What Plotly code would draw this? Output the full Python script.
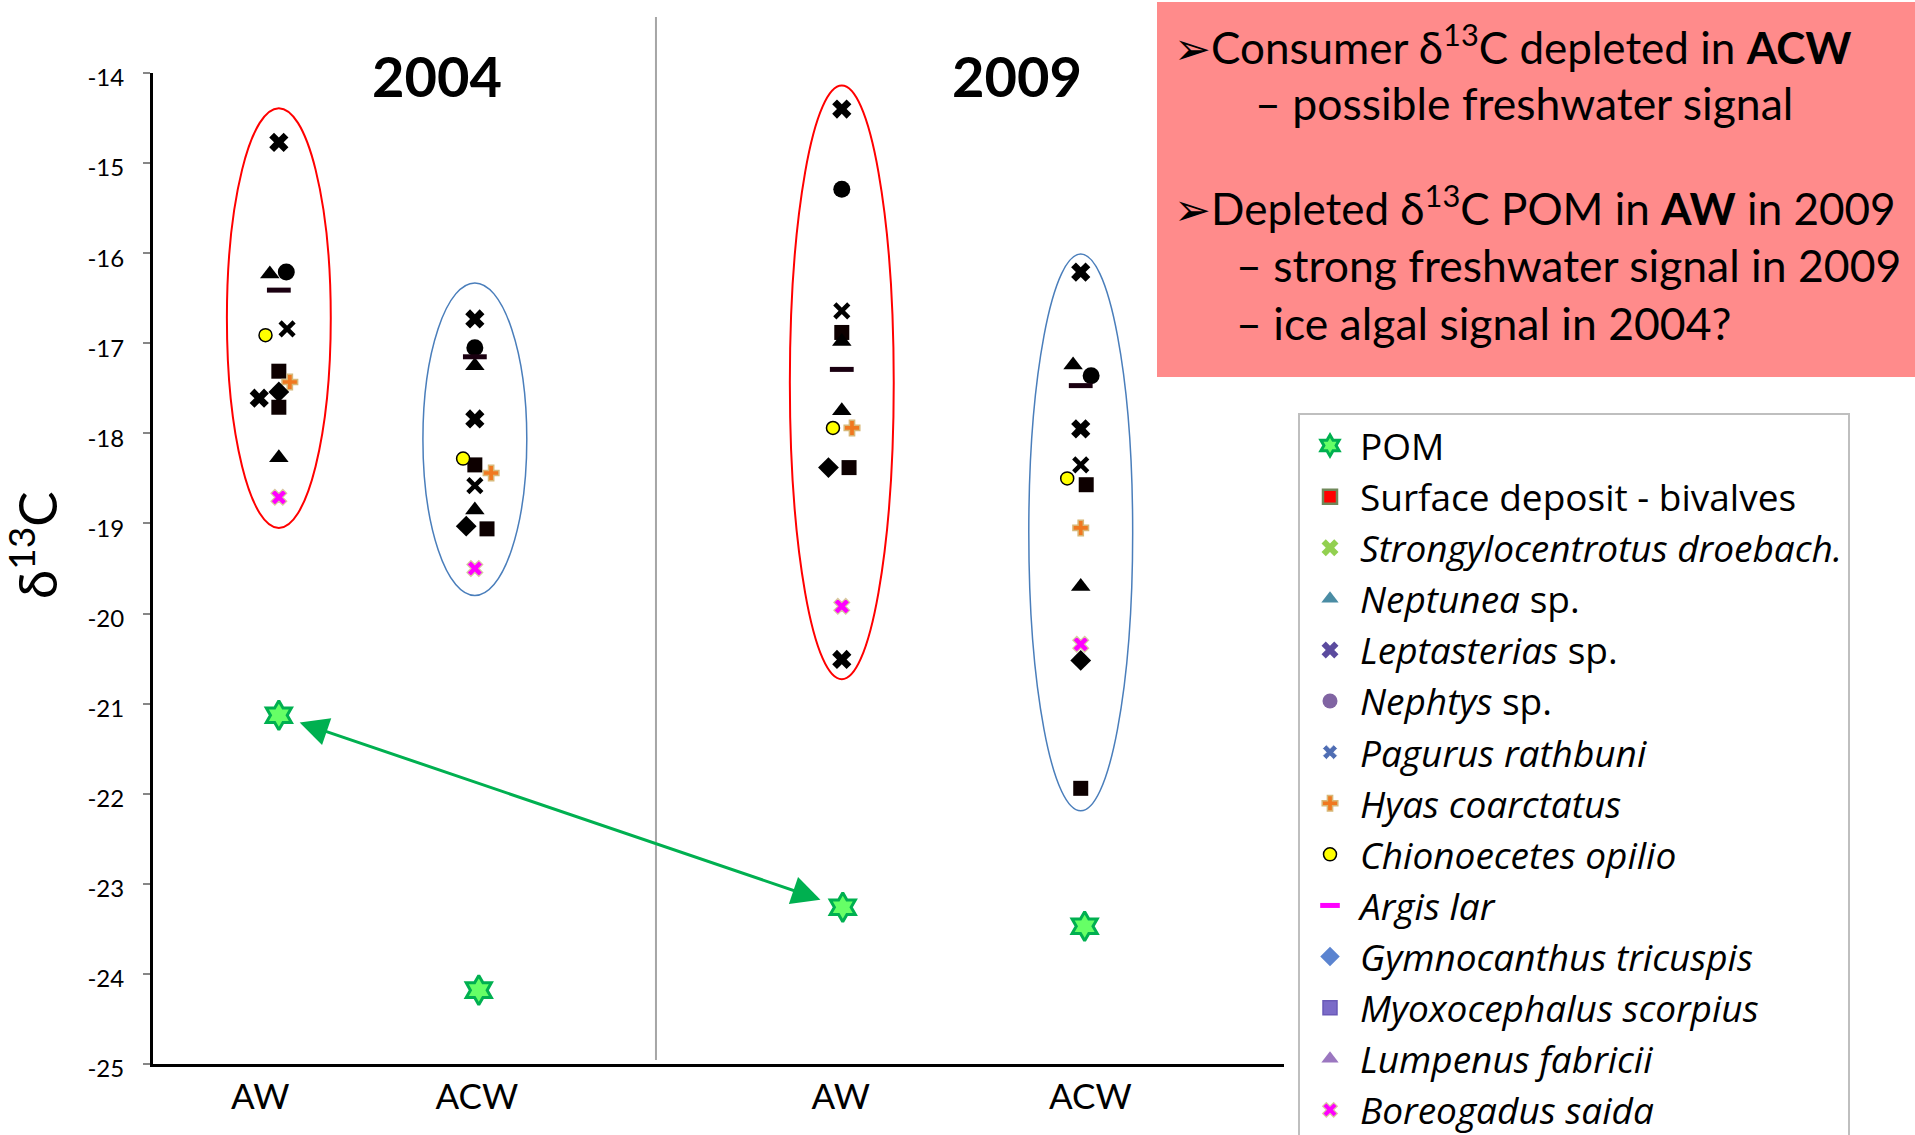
import plotly.graph_objects as go

# ---------------- data ----------------
years = ["2004", "2009"]
sites = ["AW", "ACW", "AW", "ACW"]          # AW 2004, ACW 2004, AW 2009, ACW 2009
site_x = [1.0, 2.0, 3.872, 5.091]

species = [
    "POM", "Surface deposit - bivalves", "<i>Strongylocentrotus droebach.</i>",
    "<i>Neptunea</i> sp.", "<i>Leptasterias</i> sp.", "<i>Nephtys</i> sp.",
    "<i>Pagurus rathbuni</i>", "<i>Hyas coarctatus</i>", "<i>Chionoecetes opilio</i>",
    "<i>Argis lar</i>", "<i>Gymnocanthus tricuspis</i>", "<i>Myoxocephalus scorpius</i>",
    "<i>Lumpenus fabricii</i>", "<i>Boreogadus saida</i>",
]

# d13C per species: [AW 2004, ACW 2004, AW 2009, ACW 2009]
pom          = [-21.13, -24.18, -23.26, -23.47]
surface      = [-17.31, -18.35, -16.88, -18.57]
strongylo    = [-14.77, -16.73, -14.40, -16.21]
neptunea     = [-16.23, -17.25, -16.98, -17.24]
leptasterias = [-17.61, -17.84, -20.51, -17.95]
nephtys      = [-16.21, -17.05, -15.29, -17.36]
pagurus      = [-16.84, -18.58, -16.64, -18.35]
hyas         = [-17.43, -18.44, -17.94, -19.05]
chionoecetes = [-16.91, -18.28, -17.94, -18.50]
argis        = [-16.41, -17.15, -17.29, -17.47]
gymnocanthus = [-17.54, -19.03, -18.38, -20.52]
myoxocephalus= [-17.71, -19.06, -18.38, -21.94]
lumpenus     = [-18.27, -18.85, -17.75, -19.70]
boreogadus   = [-18.71, -19.50, -19.92, -20.34]

values = [pom, surface, strongylo, neptunea, leptasterias, nephtys, pagurus, hyas,
          chionoecetes, argis, gymnocanthus, myoxocephalus, lumpenus, boreogadus]

# small x offsets of the original points within each site (x units)
jitter = [
    [0.0, 0.02, 0.005, 0.02],      # POM
    [0.0, 0.0, 0.0, 0.028],        # surface
    [0.0, 0.0, 0.0, 0.0],          # strongylo
    [-0.046, 0.0, 0.0, -0.039],    # neptunea
    [-0.10, 0.0, 0.0, 0.0],        # leptasterias
    [0.038, 0.0, 0.0, 0.053],      # nephtys
    [0.042, 0.0, 0.0, 0.0],        # pagurus
    [0.056, 0.083, 0.052, 0.0],    # hyas
    [-0.068, -0.06, -0.045, -0.069],  # chionoecetes
    [0.0, 0.0, 0.0, 0.0],          # argis
    [0.0, -0.044, -0.068, 0.0],    # gymnocanthus
    [0.0, 0.062, 0.037, 0.0],      # myoxocephalus
    [0.0, 0.0, 0.0, 0.0],          # lumpenus
    [0.0, 0.0, 0.0, 0.0],          # boreogadus
]

y_ticks = list(range(-14, -26, -1))

box_lines = [
    "➢Consumer δ<sup>13</sup>C depleted in <b>ACW</b>",
    "– possible freshwater signal",
    "➢Depleted δ<sup>13</sup>C POM in <b>AW</b> in 2009",
    "– strong freshwater signal in 2009",
    "– ice algal signal in 2004?",
]

# ---------------- styles ----------------
FONT = "Lato"
W, H = 1915, 1135
PX0, PX1, PY0, PY1 = 153, 1284, 73, 1064


def fx(px):
    return (px - PX0) / (PX1 - PX0)


def fy(py):
    return (PY1 - py) / (PY1 - PY0)


# (symbol, size, fill, line color, line width) for points in chart
plot_style = [
    ("hexagram", 22, "#66FF66", "#00B050", 3),
    ("square", 15, "#0D0000", "#0D0000", 0),
    ("x", 17, "black", "black", 0),
    ("triangle-up", 17, "black", "black", 0),
    ("x", 17, "black", "black", 0),
    ("circle", 17, "black", "black", 0),
    ("x-thin", 14, "black", "black", 4.5),
    ("cross", 13, "#F07820", "#D8B878", 1.5),
    ("circle", 13, "#FFFF00", "black", 1.5),
    ("line-ew", 17, "black", "#1A0010", 5),
    ("diamond", 16, "black", "black", 0),
    ("square", 15, "#0D0000", "#0D0000", 0),
    ("triangle-up", 17, "black", "black", 0),
    ("x", 14, "#FF00FF", "#D8C8A0", 1.2),
]
# legend markers (coloured)
legend_style = [
    ("hexagram", 16, "#66FF66", "#00B050", 3),
    ("square", 14, "#FF0000", "#70885A", 2.5),
    ("x", 15, "#92D050", "#92D050", 0),
    ("triangle-up", 15, "#4A8CA4", "#4A8CA4", 0),
    ("x", 15, "#5B4B9E", "#5B4B9E", 0),
    ("circle", 15, "#8064A2", "#8064A2", 0),
    ("x", 13, "#4F6DB3", "white", 0.8),
    ("cross", 13, "#F07820", "#D8B878", 1.5),
    ("circle", 13, "#FFFF00", "black", 1.5),
    ("line-ew", 14, "#FF00FF", "#FF00FF", 5),
    ("diamond", 15, "#5B84D0", "#5B84D0", 0),
    ("square", 14, "#7B6BC8", "#6A5AB8", 1.5),
    ("triangle-up", 15, "#9B77C0", "#9B77C0", 0),
    ("x", 13, "#FF00FF", "#D8C8A0", 1.2),
]

fig = go.Figure()

for i, name in enumerate(species):
    xs = [site_x[k] + jitter[i][k] for k in range(4)]
    sym, sz, fc, lc, lw = plot_style[i]
    fig.add_trace(go.Scatter(
        x=xs, y=values[i], mode="markers", name=name, legendgroup=str(i),
        showlegend=False,
        marker=dict(symbol=sym, size=sz, color=fc, line=dict(color=lc, width=lw)),
    ))
    sym, sz, fc, lc, lw = legend_style[i]
    fig.add_trace(go.Scatter(
        x=[None], y=[None], mode="markers", name=name, legendgroup=str(i),
        showlegend=True,
        marker=dict(symbol=sym, size=sz, color=fc, line=dict(color=lc, width=lw)),
    ))

shapes = []
# grey separator between the two years
shapes.append(dict(type="line", xref="x", yref="paper", x0=2.924, x1=2.924,
                   y0=fy(1060), y1=fy(17), line=dict(color="#A6A6A6", width=2)))
# group ellipses
ell = [
    (0, -14.39, -19.05, "#FF0000", 2),
    (1, -16.33, -19.80, "#4A7EBB", 1.5),
    (2, -14.14, -20.73, "#FF0000", 2),
    (3, -16.01, -22.19, "#4A7EBB", 1.5),
]
for k, ytop, ybot, col, lw in ell:
    shapes.append(dict(type="circle", xref="x", yref="y",
                       x0=site_x[k] - 0.265, x1=site_x[k] + 0.265,
                       y0=ybot, y1=ytop, line=dict(color=col, width=lw)))
# red text box
shapes.append(dict(type="rect", xref="paper", yref="paper",
                   x0=fx(1157), x1=fx(1925), y0=fy(377), y1=fy(2),
                   fillcolor="#FF8B8B", line=dict(width=0), layer="below"))

annotations = []
# double-headed POM arrow between AW 2004 and AW 2009
annotations.append(dict(
    x=site_x[0] + jitter[0][0], y=pom[0], ax=site_x[2] + jitter[0][2], ay=pom[2],
    xref="x", yref="y", axref="x", ayref="y", text="", showarrow=True,
    arrowhead=2, startarrowhead=2, arrowside="end+start", arrowsize=1.9,
    startarrowsize=1.9, arrowwidth=3, arrowcolor="#00B050",
    standoff=22, startstandoff=22,
))
# year titles
for yr, px in zip(years, [437, 1017]):
    annotations.append(dict(x=fx(px), y=fy(75), xref="paper", yref="paper",
                            text="<b>%s</b>" % yr, showarrow=False,
                            xanchor="center", yanchor="middle",
                            font=dict(family=FONT, size=56, color="black")))
# y-axis title
annotations.append(dict(x=fx(33), y=fy(545), xref="paper", yref="paper",
                        text="δ<sup>13</sup>C", textangle=-90, showarrow=False,
                        xanchor="center", yanchor="middle",
                        font=dict(family=FONT, size=53, color="black")))
# box text
box_pos = [(1172, 45, 44), (1253, 103, 44.5), (1172, 205, 44), (1234, 264, 44.5), (1234, 322, 44.5)]
for txt, (px, py, fs) in zip(box_lines, box_pos):
    annotations.append(dict(x=fx(px), y=fy(py), xref="paper", yref="paper",
                            text=txt, showarrow=False, xanchor="left", yanchor="middle",
                            font=dict(family=FONT, size=fs, color="black")))

label_x = [0.905, 2.01, 3.867, 5.14]

fig.update_layout(
    width=W, height=H,
    margin=dict(l=PX0, r=W - PX1, t=PY0, b=H - PY1, pad=0, autoexpand=False),
    paper_bgcolor="white", plot_bgcolor="white",
    font=dict(family=FONT, color="black"),
    shapes=shapes, annotations=annotations,
    xaxis=dict(range=[0.358, 6.128], showgrid=False, zeroline=False,
               showline=True, linecolor="black", linewidth=3,
               tickmode="array", tickvals=label_x, ticktext=sites, ticks="",
               tickfont=dict(family=FONT, size=35, color="black"),
               ticklabelstandoff=0),
    yaxis=dict(range=[-25, -14], showgrid=False, zeroline=False,
               showline=True, linecolor="black", linewidth=3,
               tickmode="array", tickvals=y_ticks, ticktext=[str(v) for v in y_ticks],
               ticks="outside", ticklen=7, tickwidth=2, tickcolor="#868686",
               tickfont=dict(family=FONT, size=24, color="black"),
               ticklabelstandoff=14, ticklabelshift=5),
    legend=dict(x=fx(1298), y=fy(413), xanchor="left", yanchor="top",
                bgcolor="white", bordercolor="#BFBFBF", borderwidth=2,
                font=dict(family="Open Sans", size=37, color="black"),
                tracegroupgap=0, traceorder="grouped", itemsizing="trace",
                itemwidth=50),
)

fig.write_html("out.html")
